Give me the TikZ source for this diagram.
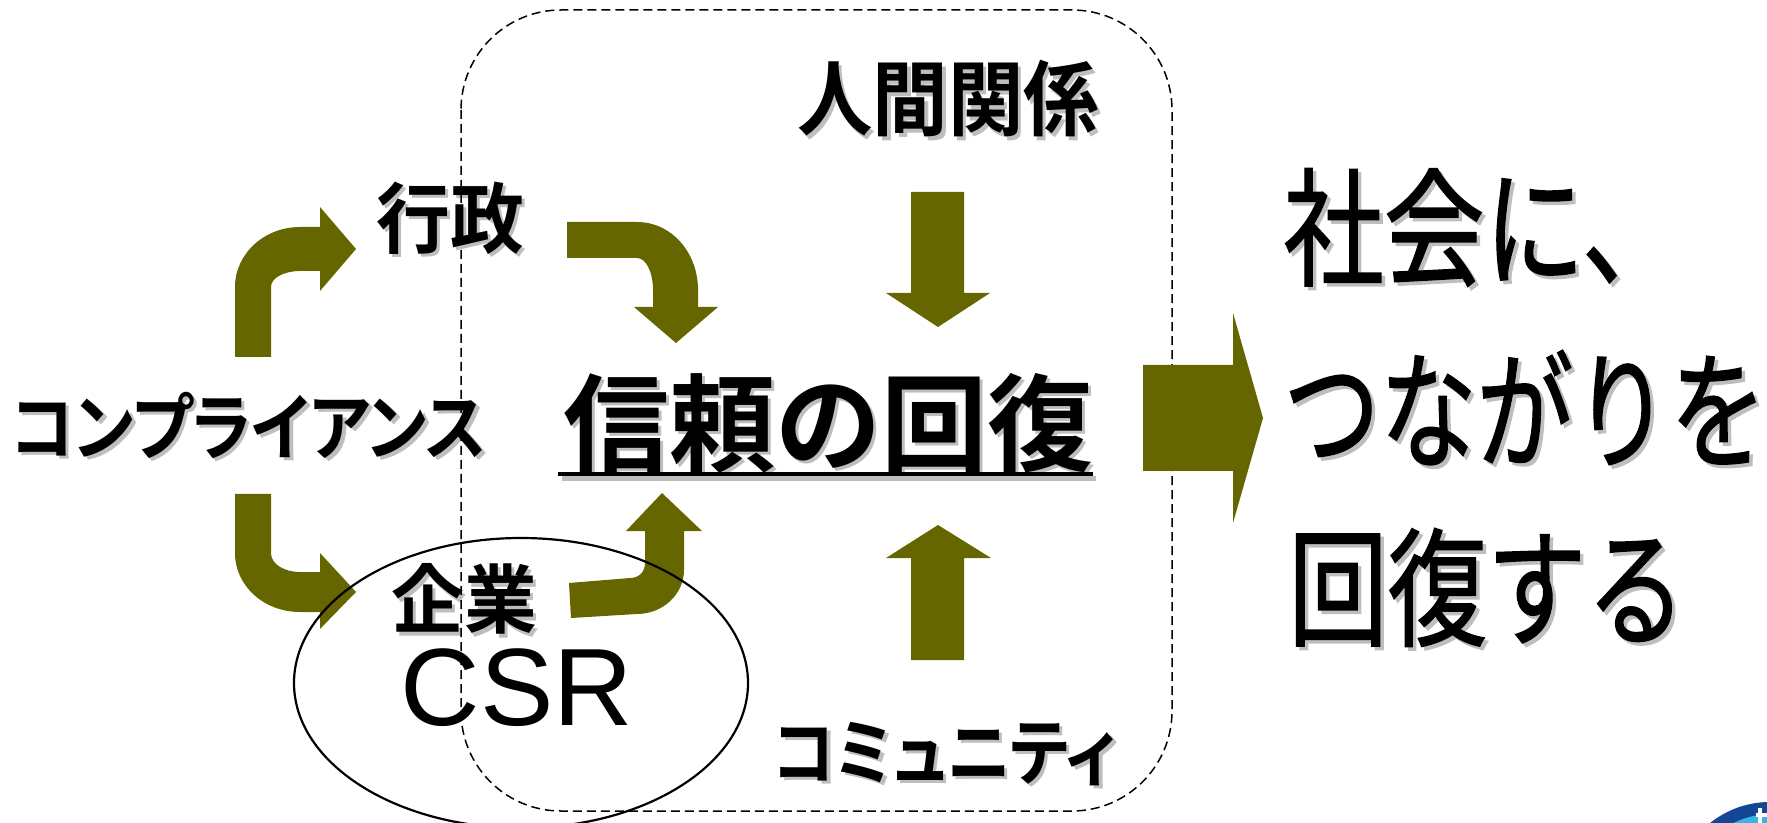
\documentclass[tikz,border=0pt]{standalone}
\usepackage{fontspec}
\usepackage{graphicx}
\newfontfamily\jpb{Noto Sans CJK JP Bold}
\newfontfamily\jpbp{Noto Sans CJK JP Bold}[RawFeature=+palt]
\newfontfamily\jpr{Noto Sans CJK JP}[FakeBold=1.2]
\newfontfamily\lsans{Liberation Sans}
\usetikzlibrary{calc}
\definecolor{arrowolive}{RGB}{102,102,0}
\definecolor{shadowgray}{RGB}{190,190,190}
\definecolor{logoblue}{RGB}{20,70,150}
\definecolor{logocyan}{RGB}{60,180,225}
% shadowed text: [anchor]{name}{coordinate}{font}{text}
\newcommand\stxt[5][center]{%
  \node[shd, anchor=#1, font=#4] (#2s) at ($(#3)+(3.5,3.5)$) {#5};
  \node[lbl, anchor=#1, font=#4] (#2) at (#3) {#5};}
\tikzset{
  lbl/.style={inner sep=0pt, text=black},
  shd/.style={inner sep=0pt, text=shadowgray},
  blockarrow/.style={fill=arrowolive, draw=none},
  framebox/.style={draw=black, line width=0.75pt, dash pattern=on 4.5pt off 2.5pt, rounded corners=50pt},
  csrring/.style={draw=black, line width=1.1pt},
}
\begin{document}
\begin{tikzpicture}[x=0.5pt,y=-0.5pt]
\useasboundingbox (0,0) rectangle (1767,823);

% ---- texts ----
\stxt{hum}{948,99}{\jpb\fontsize{41pt}{48pt}\selectfont}{\scalebox{0.92}[1]{人間関係}}
\stxt{gov}{450,218}{\jpb\fontsize{38.5pt}{44pt}\selectfont}{\scalebox{0.96}[1]{行政}}
\stxt{comp}{249,425}{\jpbp\fontsize{36.5pt}{44pt}\selectfont}{\scalebox{0.89}[1]{コンプライアンス}}
\stxt{ent}{464,599}{\jpb\fontsize{37.5pt}{44pt}\selectfont}{\scalebox{0.97}[1]{企業}}
\stxt{comm}{945,754}{\jpbp\fontsize{36.5pt}{44pt}\selectfont}{\scalebox{0.875}[1]{コミュニティ}}
\stxt{trust}{828,423}{\jpb\fontsize{53pt}{60pt}\selectfont}{信頼の回復}
\stxt[west]{ra}{1283,227.5}{\jpr\fontsize{64pt}{70pt}\selectfont}{\scalebox{0.785}[1]{社会に、}}
\stxt[west]{rb}{1283,407.5}{\jpr\fontsize{64pt}{70pt}\selectfont}{\scalebox{0.755}[1]{つながりを}}
\stxt[west]{rc}{1288,587.5}{\jpr\fontsize{64pt}{70pt}\selectfont}{\scalebox{0.776}[1]{回復する}}
\node[lbl, font=\lsans\fontsize{55pt}{60pt}\selectfont] (csr) at (517,687.5) {CSR};

% underline of trust
\draw[shadowgray, line width=2.25pt] (562,478.5) -- (1096,478.5);
\draw[black, line width=2.25pt] (558,474) -- (1093,474);

% ---- bent arrows ----
% compliance -> government
\fill[blockarrow] (235,357) -- (235,287) .. controls (235,254) and (264,227) .. (300,227)
  -- (320,227) -- (320,207) -- (356,249) -- (320,291) -- (320,271) -- (300,271)
  .. controls (284,271) and (271,278) .. (271,287) -- (271,357) -- cycle;
% compliance -> enterprise
\fill[blockarrow] (235,494) -- (235,553) .. controls (235,586) and (264,612) .. (300,612)
  -- (320,612) -- (320,629) -- (356,592) -- (320,553) -- (320,572) -- (300,572)
  .. controls (284,572) and (271,564) .. (271,553) -- (271,494) -- cycle;
% government -> trust
\fill[blockarrow] (567,222) -- (637,222) .. controls (671,222) and (698,252) .. (698,290)
  -- (698,307) -- (718,307) -- (676,343) -- (634,307) -- (653,307) -- (653,290)
  .. controls (653,272) and (646,258) .. (637,258) -- (567,258) -- cycle;
% enterprise -> trust
\fill[blockarrow] (571,618) -- (637,614) .. controls (663,614) and (684,594) .. (684,570)
  -- (684,531) -- (702,531) -- (662,493) -- (626,531) -- (645,531) -- (645,563)
  .. controls (645,572) and (639,578) .. (630,578) -- (569,583) -- cycle;
% human relations -> trust
\fill[blockarrow] (911,192) -- (964,192) -- (964,293) -- (990,293) -- (938,327)
  -- (886,293) -- (911,293) -- cycle;
% community -> trust
\fill[blockarrow] (911,660) -- (964,660) -- (964,558) -- (991,558) -- (938,525)
  -- (886,558) -- (911,558) -- cycle;

% ---- frame and CSR ellipse ----
\draw[framebox] (461,10) rectangle (1172,811);
\draw[csrring] (521,683) ellipse [x radius=227, y radius=145];

% ---- big arrow to the right ----
\fill[blockarrow] (1143,365) -- (1233,365) -- (1233,313) -- (1263,418) -- (1233,523)
  -- (1233,471) -- (1143,471) -- cycle;

% ---- logo (clipped) ----
\begin{scope}
\clip (0,0) rectangle (1767,823);
\fill[logoblue] (1770,898) circle [radius=96];
\fill[logocyan] (1772,900) circle [radius=86];
\fill[white] (1756,813) rectangle (1767,817);
\fill[white] (1758,808) rectangle (1762,823);
\end{scope}
\end{tikzpicture}
\end{document}
